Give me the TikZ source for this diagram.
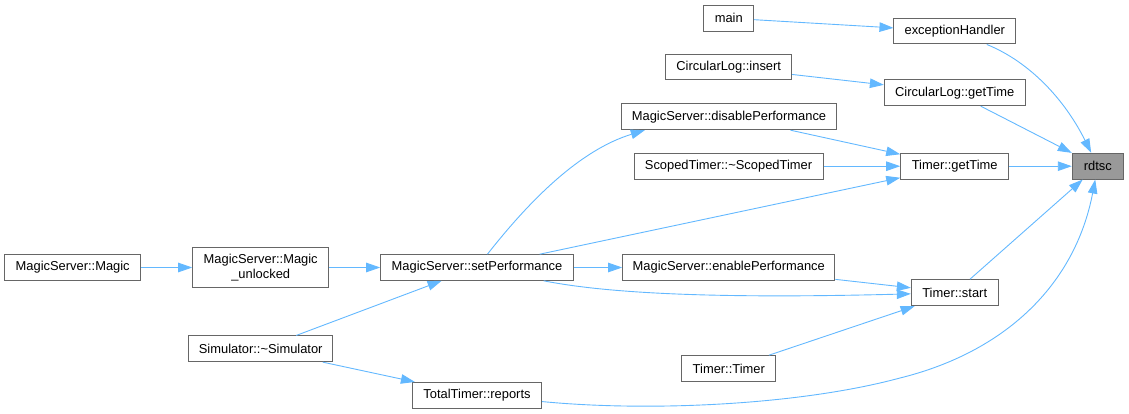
\documentclass[tikz,border=0pt]{standalone}
\usepackage{fontspec}
\setmainfont{Liberation Sans}
\usetikzlibrary{arrows.meta}
\definecolor{edgeblue}{HTML}{63B8FF}
\definecolor{nodeborder}{HTML}{666666}
\definecolor{focusfill}{HTML}{999999}
\begin{document}
\begin{tikzpicture}[x=1pt,y=-1pt,
  box/.style={draw=nodeborder, fill=white, line width=1pt, inner sep=0pt,
              font=\fontsize{12.9}{15}\selectfont, align=center},
  focus/.style={box, fill=focusfill},
  call/.style={draw=edgeblue, line width=0.9pt, -{Triangle[length=14pt,width=9.5pt]}}]
\useasboundingbox (0,0) rectangle (1129,414);

\node[box, minimum width=49.7pt, minimum height=25.7pt] (main) at (728.8,18.2) {main};
\node[box, minimum width=121.7pt, minimum height=25pt] (eh) at (954.8,31.5) {exceptionHandler};
\node[box, minimum width=126pt, minimum height=25.3pt] (ins) at (728.7,67.3) {CircularLog::insert};
\node[box, minimum width=140.7pt, minimum height=25.7pt] (clg) at (954.7,92.8) {CircularLog::getTime};
\node[box, minimum width=215.4pt, minimum height=26pt] (dis) at (729,116.7) {MagicServer::disablePerformance};
\node[box, minimum width=189pt, minimum height=25.7pt] (sco) at (728.5,166.2) {ScopedTimer::\textasciitilde ScopedTimer};
\node[box, minimum width=108pt, minimum height=25.7pt] (tgt) at (954.7,166.2) {Timer::getTime};
\node[focus, minimum width=51pt, minimum height=25.7pt] (rd) at (1097.8,166.2) {rdtsc};
\node[box, minimum width=136pt, minimum height=26pt] (mag) at (72.7,267.5) {MagicServer::Magic};
\node[box, minimum width=136pt, minimum height=40.7pt] (unl) at (260.7,267.5) {MagicServer::Magic\\\_unlocked};
\node[box, minimum width=192.6pt, minimum height=25.6pt] (setp) at (477,267.5) {MagicServer::setPerformance};
\node[box, minimum width=212.3pt, minimum height=25.6pt] (ena) at (728.8,267.5) {MagicServer::enablePerformance};
\node[box, minimum width=86.7pt, minimum height=26pt] (sta) at (954.7,292.7) {Timer::start};
\node[box, minimum width=144pt, minimum height=25.7pt] (sim) at (260.7,348.8) {Simulator::\textasciitilde Simulator};
\node[box, minimum width=93.7pt, minimum height=26pt] (tt) at (728.8,368.7) {Timer::Timer};
\node[box, minimum width=129.4pt, minimum height=25.7pt] (rep) at (477,395.3) {TotalTimer::reports};

\draw[call] (main) -- (eh);
\draw[call] (eh) .. controls (1030,62) and (1065,100) .. (rd);
\draw[call] (ins) -- (clg);
\draw[call] (clg) -- (rd);
\draw[call] (dis) -- (tgt);
\draw[call] (sco) -- (tgt);
\draw[call] (tgt) -- (rd);
\draw[call] (setp) .. controls (530,200) and (580,150) .. ([xshift=24pt]dis.south west);
\draw[call] (setp) -- (tgt);
\draw[call] (setp) -- (ena);
\draw[call] (setp) .. controls (620,296) and (750,298) .. (sta);
\draw[call] (ena) -- (sta);
\draw[call] (sta) -- (rd);
\draw[call] (mag) -- (unl);
\draw[call] (unl) -- (setp);
\draw[call] (sim) -- (setp);
\draw[call] (sim) -- (rep);
\draw[call] (tt) -- (sta);
\draw[call] (rep) .. controls (650,412) and (800,405) .. (900,378)
                 .. controls (1005,352) and (1075,285) .. (rd);
\end{tikzpicture}
\end{document}
